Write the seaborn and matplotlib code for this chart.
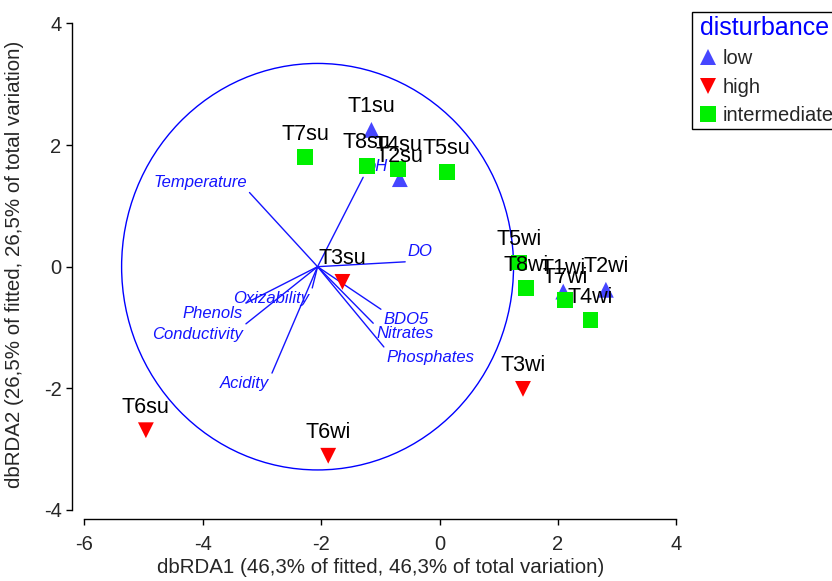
import numpy as np
import pandas as pd
import matplotlib
matplotlib.use("Agg")
import matplotlib.pyplot as plt
import seaborn as sns
from matplotlib.patches import Ellipse

# sample scores on dbRDA axes
sites = ["T1su", "T2su", "T3su", "T4su", "T5su", "T6su", "T7su", "T8su",
         "T1wi", "T2wi", "T3wi", "T4wi", "T5wi", "T6wi", "T7wi", "T8wi"]
dbrda1 = [-1.15, -0.67, -1.64, -0.70, 0.12, -4.96, -2.27, -1.23,
          2.09, 2.81, 1.41, 2.55, 1.34, -1.88, 2.12, 1.46]
dbrda2 = [2.25, 1.44, -0.25, 1.61, 1.56, -2.69, 1.80, 1.66,
          -0.41, -0.38, -2.01, -0.88, 0.07, -3.11, -0.55, -0.35]
disturbance = ["low", "low", "high", "intermediate", "intermediate", "high", "intermediate", "intermediate",
               "low", "low", "high", "intermediate", "intermediate", "high", "intermediate", "intermediate"]

# environmental vectors (end points), drawn from a common origin
origin = (-2.06, 0.0)
variables = ["Temperature", "pH", "DO", "BDO5", "Nitrates", "Phosphates",
             "Acidity", "Conductivity", "Phenols", "Oxizability"]
vec_x = [-3.21, -1.29, -0.58, -0.99, -1.12, -0.94, -2.83, -3.27, -3.27, -2.15]
vec_y = [1.22, 1.47, 0.08, -0.70, -0.93, -1.32, -1.75, -0.94, -0.60, -0.35]
circle_r = 3.31

levels = ["low", "high", "intermediate"]
colors = {"low": "#4646ff", "high": "#ff0000", "intermediate": "#00f000"}
markers = {"low": "^", "high": "v", "intermediate": "s"}

df = pd.DataFrame({"site": sites, "dbRDA1": dbrda1, "dbRDA2": dbrda2,
                   "disturbance": disturbance})

sns.set_style("ticks")
plt.rcParams["font.family"] = ["Liberation Sans", "DejaVu Sans"]
plt.rcParams["axes.unicode_minus"] = False

fig = plt.figure(figsize=(8.32, 5.81), dpi=100)
ax = fig.add_axes([72 / 832, 62 / 581, 618 / 832, 509 / 581])

vec_col = "#1414ff"
ax.add_patch(Ellipse(origin, 2 * circle_r, 2 * circle_r * 1.01, fill=False,
                     edgecolor="#0000ff", lw=1.0))
for name, vx, vy in zip(variables, vec_x, vec_y):
    ax.plot([origin[0], vx], [origin[1], vy], color=vec_col, lw=1.0)
    dx, dy = vx - origin[0], vy - origin[1]
    ax.annotate(name, (vx, vy), xytext=(2 if dx > 0 else -2, 7.5 if dy > 0 else -7.5),
                textcoords="offset points", ha="left" if dx > 0 else "right",
                va="center", color=vec_col, fontsize=12, style="italic")

sns.scatterplot(data=df, x="dbRDA1", y="dbRDA2", hue="disturbance", style="disturbance",
                hue_order=levels, style_order=levels, palette=colors, markers=markers,
                s=130, linewidth=0, ax=ax, zorder=3)

for _, r in df.iterrows():
    ax.annotate(r["site"], (r["dbRDA1"], r["dbRDA2"]), xytext=(0, 16.5),
                textcoords="offset points", ha="center", va="center",
                fontsize=15.5, color="black", zorder=4)

ax.set_xlim(-6.208, 4.231)
ax.set_ylim(-4.150, 4.222)
ax.set_xticks([-6, -4, -2, 0, 2, 4])
ax.set_yticks([-4, -2, 0, 2, 4])
ax.spines["top"].set_visible(False)
ax.spines["right"].set_visible(False)
ax.spines["bottom"].set_bounds(-6, 4)
ax.spines["left"].set_bounds(-4, 4)
for s in ["bottom", "left"]:
    ax.spines[s].set_color("black")
    ax.spines[s].set_linewidth(1.0)
ax.tick_params(axis="both", length=4.5, width=1.0, labelsize=14.5, color="black")
ax.tick_params(axis="x", pad=7)
ax.tick_params(axis="y", pad=3)
ax.set_xlabel("dbRDA1 (46,3% of fitted, 46,3% of total variation)", fontsize=14.8, labelpad=3)
ax.set_ylabel("dbRDA2 (26,5% of fitted, 26,5% of total variation)", fontsize=14.8, labelpad=14)

sns.move_legend(ax, loc="upper left", bbox_to_anchor=(692 / 832, 1 - 12 / 581),
                bbox_transform=fig.transFigure, title="disturbance", frameon=True,
                fancybox=False, fontsize=14.5, title_fontsize=18, labelspacing=0.46,
                handletextpad=0.1, borderpad=0.2, handlelength=1.2, borderaxespad=0,
                edgecolor="black", framealpha=1)
leg = ax.get_legend()
leg.get_title().set_color("#0000ff")
leg.get_frame().set_linewidth(1.0)

fig.savefig("out.png", dpi=100)
